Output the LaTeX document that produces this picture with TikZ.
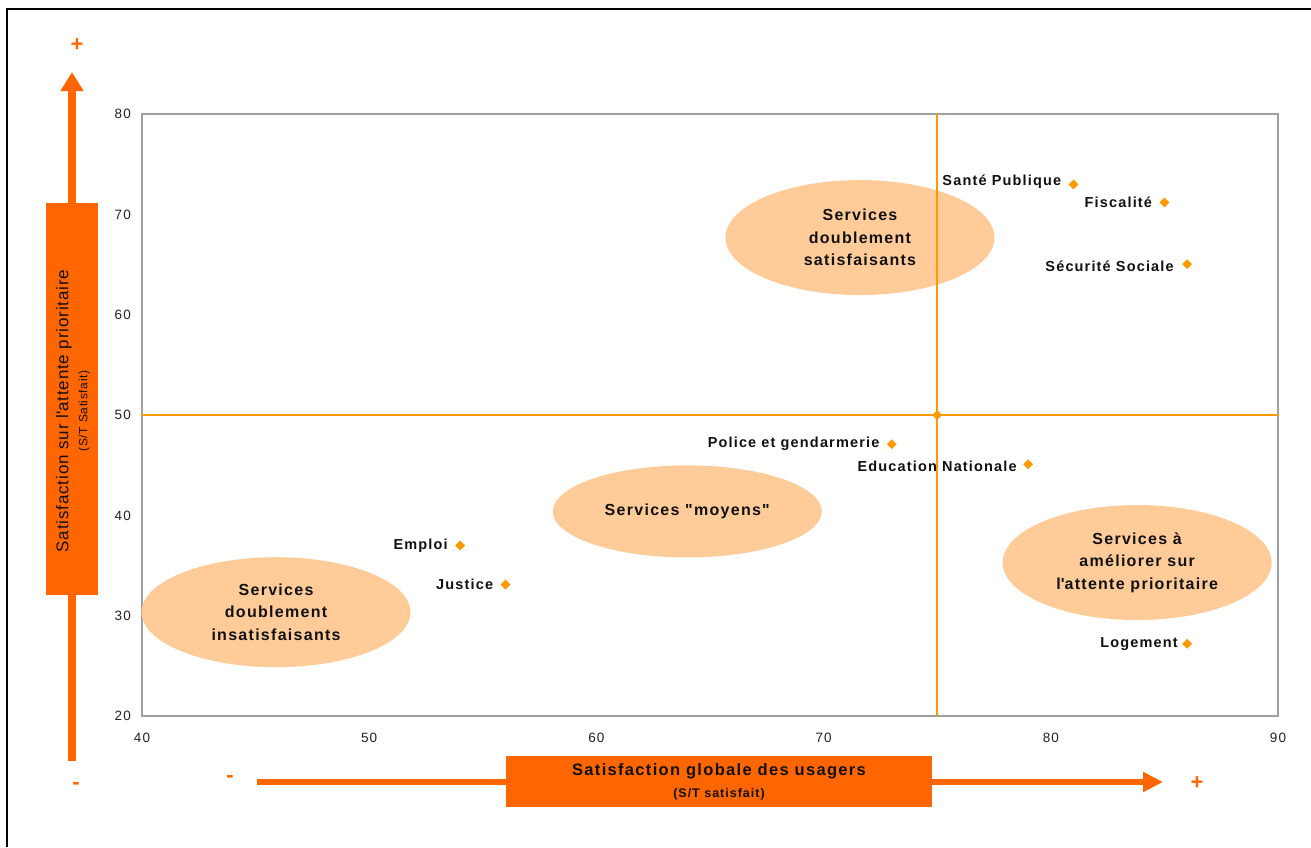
\documentclass[tikz,border=0pt]{standalone}
\usepackage{fontspec}
\setmainfont{Liberation Sans}
\newfontfamily\spacedfont[LetterSpace=8]{Liberation Sans}
\usetikzlibrary{shapes.geometric,arrows.meta,positioning}
\definecolor{arrorange}{HTML}{FF6600}
\definecolor{gridorange}{HTML}{FF9900}
\definecolor{peach}{HTML}{FFCC99}
\definecolor{framegray}{HTML}{A0A0A0}
\definecolor{txtdark}{HTML}{111111}
\definecolor{tickgray}{HTML}{222222}
\tikzset{
  zone/.style={ellipse, fill=peach, minimum width=269pt, minimum height=115pt,
    align=center, text=txtdark, inner sep=0pt,
    font=\spacedfont\fontsize{16}{22.5}\selectfont\bfseries},
  svcdot/.style={diamond, fill=gridorange, inner sep=0pt, minimum size=10pt},
  svclabel/.style={inner sep=0pt, text=txtdark,
    font=\spacedfont\fontsize{14.5}{17}\selectfont\bfseries},
  ticklabel/.style={inner sep=0pt, text=tickgray,
    font=\spacedfont\fontsize{13.5}{15}\selectfont},
  axisbox/.style={fill=arrorange, inner sep=0pt},
  axisarrow/.style={draw=arrorange},
  signtext/.style={text=arrorange, inner sep=0pt, font=\fontsize{22}{24}\selectfont\bfseries}
}
\begin{document}
\begin{tikzpicture}[x=1pt,y=-1pt]
\useasboundingbox (0,0) rectangle (1311,847);
\draw[line width=2pt] (7,847) -- (7,9) -- (1311,9);
% plot in data coordinates
\begin{scope}[shift={(-766.8,916.6)}, x=22.72pt, y=10.03pt]
\draw[draw=framegray, line width=1.5pt] (40,20) rectangle (90,80);
\foreach \v in {20,30,...,80}
  \node[ticklabel, left=11pt] (yt\v) at (40,\v) {\v};
\foreach \v in {40,50,...,90}
  \node[ticklabel, below=17pt] (xt\v) at (\v,20) {\v};
% zones
\node[zone] (zsat) at (71.6,67.7) {Services\\doublement\\satisfaisants};
\node[zone, minimum height=92pt] (zmoy) at (64.0,40.4) {Services "moyens"};
\node[zone] (zame) at (83.8,35.3) {Services à\\améliorer sur\\l\textquotesingle attente prioritaire};
\node[zone, minimum height=110pt] (zins) at (45.9,30.35) {Services\\doublement\\insatisfaisants};
% quadrant lines
\draw[draw=gridorange, line width=1.6pt] (75,20) -- (75,80) (40,50) -- (90,50);
\node[svcdot, minimum size=10pt] (centre) at (75,50) {};
% services
\node[svcdot] (sante) at (81,73) {};
\node[svclabel, left=7pt of sante, yshift=3pt] (santelbl) {Santé Publique};
\node[svcdot] (fisc) at (85,71.2) {};
\node[svclabel, left=7pt of fisc] (fisclbl) {Fiscalité};
\node[svcdot] (secu) at (86,65.05) {};
\node[svclabel, left=8pt of secu, yshift=-2pt] (seculbl) {Sécurité Sociale};
\node[svcdot] (police) at (73,47.1) {};
\node[svclabel, left=7pt of police] (policelbl) {Police et gendarmerie};
\node[svcdot] (educ) at (79,45.1) {};
\node[svclabel, left=6pt of educ, yshift=-2pt] (educlbl) {Education Nationale};
\node[svcdot] (emploi) at (54,37.0) {};
\node[svclabel, left=7pt of emploi] (emploilbl) {Emploi};
\node[svcdot] (justice) at (56,33.1) {};
\node[svclabel, left=7pt of justice] (justicelbl) {Justice};
\node[svcdot] (logement) at (86,27.2) {};
\node[svclabel, left=4pt of logement] (logementlbl) {Logement};
\end{scope}
% vertical axis
\coordinate (ybot) at (72,761);
\coordinate (ytop) at (72,72);
\draw[axisarrow, line width=8pt, -{Triangle[width=22pt,length=19pt]}] (ybot) -- (ytop);
\node[axisbox, minimum width=52pt, minimum height=392pt] (ybox) at (72,399) {};
\node[rotate=90, align=center, text=txtdark, inner sep=0pt,
  font=\addfontfeature{LetterSpace=5}\fontsize{17}{20}\selectfont] (ytitle) at (73,411)
  {Satisfaction sur l\textquotesingle attente prioritaire\\[-1pt]{\fontsize{12}{14}\selectfont (S/T Satisfait)}};
\node[signtext] (yplus) at (77,45) {+};
\node[signtext] (yminus) at (76,786) {-};
% horizontal axis
\coordinate (xleft) at (257,782);
\coordinate (xright) at (1163,782);
\draw[axisarrow, line width=5.5pt, -{Triangle[width=19pt,length=20pt]}] (xleft) -- (xright);
\node[axisbox, minimum width=426pt, minimum height=51pt, align=center, text=txtdark,
  font=\spacedfont\fontsize{16.5}{22}\selectfont\bfseries] (xbox) at (719,781.5)
  {Satisfaction globale des usagers\\{\fontsize{12.5}{14}\selectfont (S/T satisfait)}};
\node[signtext] (xminus) at (230,779) {-};
\node[signtext] (xplus) at (1197,783) {+};
\end{tikzpicture}
\end{document}
